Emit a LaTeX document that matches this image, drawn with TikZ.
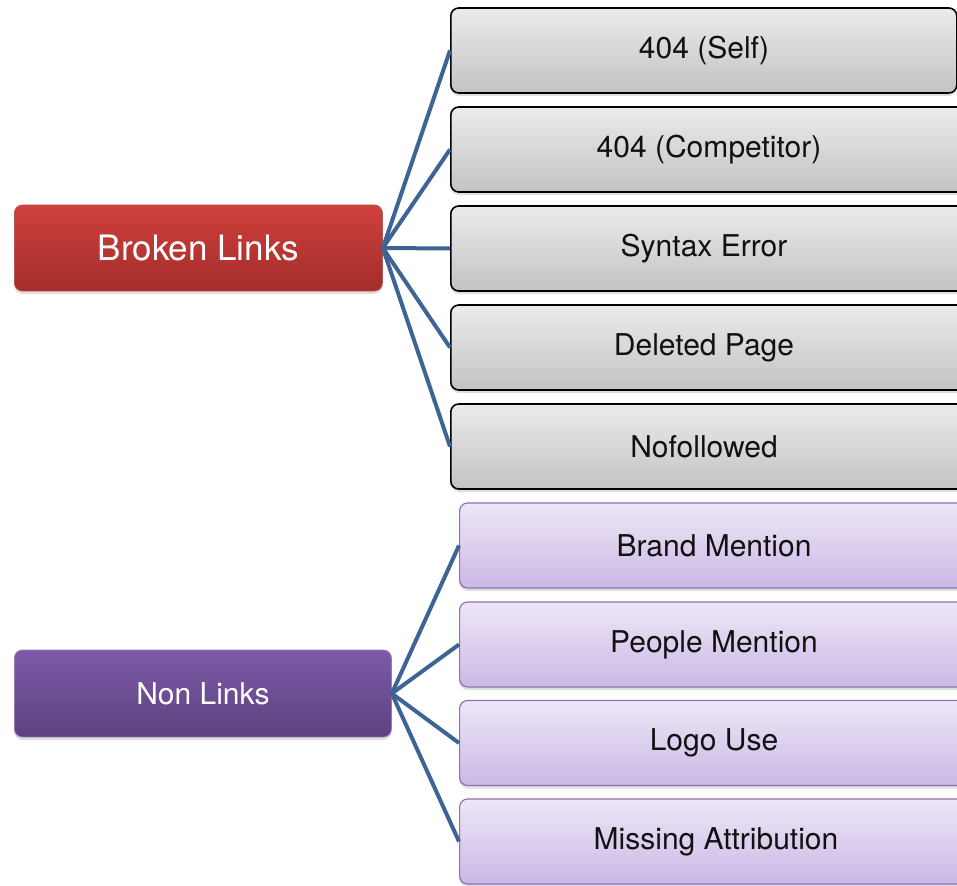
\documentclass[tikz,border=0pt]{standalone}
\usepackage{fontspec}
\setmainfont{TeX Gyre Heros}
\usetikzlibrary{shadows}
\definecolor{linkblue}{HTML}{3E6496}
\definecolor{redtop}{HTML}{CF403C}
\definecolor{redbot}{HTML}{A32D2B}
\definecolor{purtop}{HTML}{7D5AA8}
\definecolor{purbot}{HTML}{5E417F}
\definecolor{graytop}{HTML}{EBEBEB}
\definecolor{graybot}{HTML}{C3C3C3}
\definecolor{lptop}{HTML}{EEE7F7}
\definecolor{lpbot}{HTML}{CBB8E5}
\definecolor{lpborder}{HTML}{9070B5}
\definecolor{txtdark}{HTML}{111111}
\tikzset{
  basebox/.style={rectangle, rounded corners=8pt, anchor=west, inner sep=0pt,
     drop shadow={shadow xshift=0pt, shadow yshift=-3pt, opacity=0.25}},
  redbox/.style={basebox, shading=axis, top color=redtop, bottom color=redbot, draw=redbot!80!white, line width=0.8pt,
     minimum width=368pt, minimum height=86pt, text=white, font=\fontsize{35}{40}\selectfont},
  purbox/.style={basebox, shading=axis, top color=purtop, bottom color=purbot, draw=purtop!80!white, line width=0.8pt,
     minimum width=377pt, minimum height=87pt, text=white, font=\fontsize{30}{34}\selectfont},
  graybox/.style={basebox, shading=axis, top color=graytop, bottom color=graybot, draw=black, line width=1.6pt,
     minimum height=85pt},
  lpbox/.style={basebox, shading=axis, top color=lptop, bottom color=lpbot, draw=lpborder, line width=1.2pt,
     minimum height=85pt},
  boxtext/.style={font=\fontsize{30}{34}\selectfont, text=txtdark},
  conn/.style={draw=linkblue, line width=4pt}
}
\begin{document}
\begin{tikzpicture}[x=1pt,y=-1pt]
\useasboundingbox (0,0) rectangle (957,885);
\clip (0,0) rectangle (957,885);
% gray boxes
\node[graybox, minimum width=506pt] (g1) at (450,50.5) {};
\node[boxtext] (t1) at (704,50.5) {404 (Self)};
\node[graybox, minimum width=520pt] (g2) at (450,149.5) {};
\node[boxtext] (t2) at (709,149.5) {404 (Competitor)};
\node[graybox, minimum width=520pt] (g3) at (450,248.5) {};
\node[boxtext] (t3) at (704,248.5) {Syntax Error};
\node[graybox, minimum width=520pt] (g4) at (450,347.5) {};
\node[boxtext] (t4) at (704,347.5) {Deleted Page};
\node[graybox, minimum width=520pt] (g5) at (450,446.5) {};
\node[boxtext] (t5) at (704,446.5) {Nofollowed};
% purple boxes
\node[lpbox, minimum width=520pt] (p1) at (459,545.5) {};
\node[boxtext] (s1) at (714,545.5) {Brand Mention};
\node[lpbox, minimum width=520pt] (p2) at (459,644.5) {};
\node[boxtext] (s2) at (714,644.5) {People Mention};
\node[lpbox, minimum width=520pt] (p3) at (459,743) {};
\node[boxtext] (s3) at (714,743) {Logo Use};
\node[lpbox, minimum width=520pt] (p4) at (459,841.5) {};
\node[boxtext] (s4) at (716,841.5) {Missing Attribution};
% main boxes
\node[redbox] (broken) at (14,248) {Broken Links};
\node[purbox] (non) at (14,693.5) {Non Links};
% connectors
\foreach \g in {g1,g2,g3,g4,g5}{\draw[conn] (broken.east) -- (\g.west);}
\foreach \p in {p1,p2,p3,p4}{\draw[conn] (non.east) -- (\p.west);}
\end{tikzpicture}
\end{document}
